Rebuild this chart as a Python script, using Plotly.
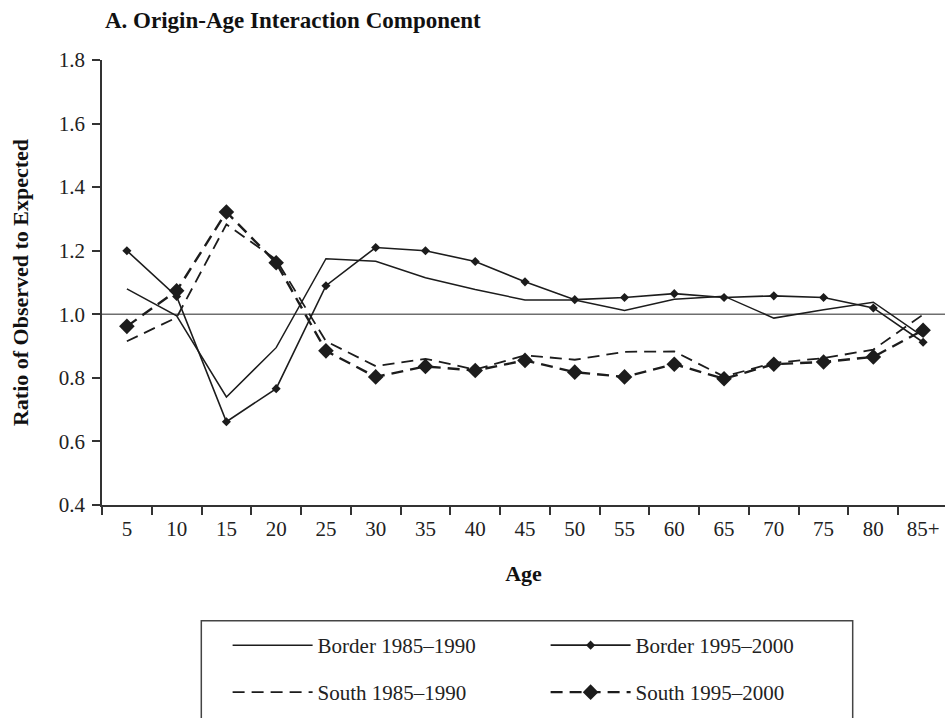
import plotly.graph_objects as go

ages = ["5", "10", "15", "20", "25", "30", "35", "40", "45", "50", "55", "60", "65", "70", "75", "80", "85+"]

border_1985_1990 = [1.08, 0.995, 0.74, 0.895, 1.175, 1.167, 1.115, 1.078, 1.045, 1.045, 1.012, 1.047, 1.057, 0.988, 1.014, 1.038, 0.93]
border_1995_2000 = [1.20, 1.056, 0.662, 0.766, 1.09, 1.21, 1.20, 1.166, 1.102, 1.046, 1.053, 1.065, 1.053, 1.058, 1.053, 1.02, 0.912]
south_1985_1990 = [0.915, 0.99, 1.283, 1.172, 0.915, 0.837, 0.86, 0.826, 0.871, 0.857, 0.882, 0.883, 0.804, 0.847, 0.862, 0.889, 0.999]
south_1995_2000 = [0.962, 1.074, 1.322, 1.162, 0.885, 0.803, 0.836, 0.823, 0.855, 0.818, 0.803, 0.843, 0.797, 0.843, 0.85, 0.866, 0.95]

names = ["Border 1985\u20131990", "Border 1995\u20132000", "South 1985\u20131990", "South 1995\u20132000"]

FONT = "Liberation Serif"
INK = "#1c1c1c"

fig = go.Figure()
fig.add_trace(go.Scatter(x=ages, y=border_1985_1990, name=names[0], mode="lines",
                         line=dict(color=INK, width=1.5), legend="legend"))
fig.add_trace(go.Scatter(x=ages, y=border_1995_2000, name=names[1], mode="lines+markers",
                         line=dict(color=INK, width=1.6),
                         marker=dict(symbol="diamond", size=7, color=INK), legend="legend"))
fig.add_trace(go.Scatter(x=ages, y=south_1985_1990, name=names[2], mode="lines",
                         line=dict(color=INK, width=1.8, dash="12px,7px"), legend="legend2"))
fig.add_trace(go.Scatter(x=ages, y=south_1995_2000, name=names[3], mode="lines+markers",
                         line=dict(color=INK, width=2.4, dash="12px,7px"),
                         marker=dict(symbol="diamond", size=12, color=INK), legend="legend2"))

# reference line at 1.0
fig.add_shape(type="line", xref="paper", x0=0, x1=1, yref="y", y0=1.0, y1=1.0,
              line=dict(color="#6e6e6e", width=1.5), layer="below")
# legend frame
fig.add_shape(type="rect", xref="paper", yref="paper", x0=0.1178, x1=0.8905, y0=-0.26, y1=-0.52,
              line=dict(color="#444", width=1.5), fillcolor="rgba(0,0,0,0)")

legend_common = dict(orientation="h", xanchor="left", yanchor="middle",
                     font=dict(family=FONT, size=21, color="#222"),
                     bgcolor="rgba(0,0,0,0)", borderwidth=0,
                     itemwidth=80, entrywidth=223, entrywidthmode="pixels",
                     traceorder="normal")

fig.update_layout(
    width=945, height=718,
    margin=dict(l=102, r=0, t=60, b=213, autoexpand=False),
    paper_bgcolor="white", plot_bgcolor="white",
    font=dict(family=FONT, size=21, color="#222"),
    title=dict(text="<b>A. Origin-Age Interaction Component</b>", xref="container", yref="container",
               x=105 / 945, xanchor="left", y=1 - 20 / 718, yanchor="middle",
               font=dict(family=FONT, size=23, color="#111")),
    xaxis=dict(type="category", range=[-0.5, 16.44], showgrid=False, zeroline=False,
               showline=True, linecolor="#333", linewidth=1.5,
               ticks="outside", tickson="boundaries", ticklen=8, tickcolor="#333", tickwidth=1.5,
               ticklabelstandoff=4,
               tickfont=dict(family=FONT, size=21, color="#222"),
               title=dict(text="<b>Age</b>", standoff=26, font=dict(family=FONT, size=22, color="#111"))),
    yaxis=dict(range=[0.4, 1.8], dtick=0.2, tick0=0.4, tickformat=".1f", showgrid=False, zeroline=False,
               showline=True, linecolor="#333", linewidth=1.5,
               ticks="outside", ticklen=8, tickcolor="#333", tickwidth=1.5,
               ticklabelstandoff=3,
               tickfont=dict(family=FONT, size=21, color="#222"),
               title=dict(text="<b>Ratio of Observed to Expected</b>", standoff=24,
                          font=dict(family=FONT, size=22, color="#111"))),
    legend=dict(x=0.149, y=-0.3157, **legend_common),
    legend2=dict(x=0.149, y=-0.4213, **legend_common),
    showlegend=True,
)

fig.write_html("out.html", config={"displayModeBar": False},
               post_script="document.body.style.margin='0';document.body.style.overflow='hidden';")
